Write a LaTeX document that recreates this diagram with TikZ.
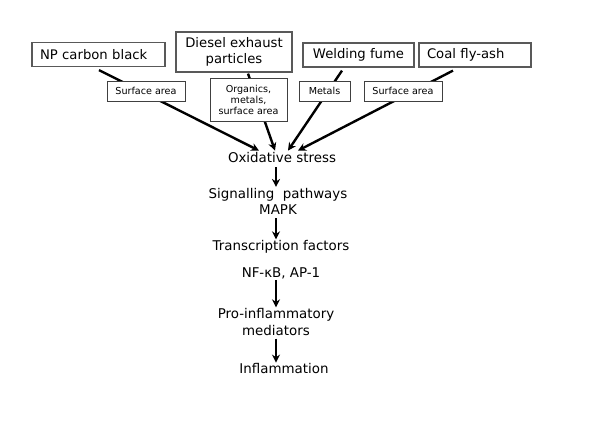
\documentclass[tikz,border=0pt]{standalone}
\usepackage{fontspec}
\setmainfont{DejaVu Sans}
\usetikzlibrary{arrows.meta,positioning,calc}

\begin{document}
\begin{tikzpicture}[x=1pt,y=-1pt,
    source/.style={draw=black!65,line width=1.2pt,inner ysep=0pt,inner xsep=8pt,
      font=\fontsize{13.2}{16}\selectfont,minimum height=24pt},
    tag/.style={draw=black!75,line width=0.8pt,fill=white,inner sep=0pt,
      font=\fontsize{9.6}{11}\selectfont,align=center,minimum height=20pt},
    stage/.style={inner sep=1pt,font=\fontsize{13.4}{16.5}\selectfont,align=center},
    link/.style={line width=2.4pt,-{Stealth[length=8pt,width=8pt]}}]
     \useasboundingbox (0,0) rectangle (600,422);
     \node[source,text width=117pt,align=left] (np) at (98.5,54.5) {NP carbon black};
     \node[source,inner xsep=0pt,minimum width=116pt,minimum height=40pt,align=center] (diesel) at (234,52)
       {Diesel exhaust\\particles};
     \node[source,inner xsep=0pt,minimum width=111pt] (weld) at (358.5,55) {Welding fume};
     \node[source,text width=96pt,align=left] (coal) at (475,55) {Coal fly-ash};

     \node[stage] (ox) at (282,158) {Oxidative stress};
     \node[stage] (sig) at (278,201.5) {Signalling~~pathways\\MAPK};
     \node[stage] (tf) at (281,247) {Transcription factors};
     \node[stage] (nf) at (281,273) {NF-κB, AP-1};
     \node[stage] (pro) at (276,322) {Pro-inflammatory\\mediators};
     \node[stage] (inf) at (284,369) {Inflammation};
     \coordinate (axis) at (276,0);

     \draw[link] ($(np.south)+(0.5,3)$) -- ($(ox.north)+(-23,-1)$);
     \draw[link] ($(diesel.south)+(14,1)$) -- ($(ox.north)+(-7,-1)$);
     \draw[link] ($(weld.south)+(-16.5,3)$) -- ($(ox.north)+(6,-1)$);
     \draw[link] ($(coal.south)+(-22,3)$) -- ($(ox.north)+(16,-1)$);

     \node[tag,minimum width=78pt] (sa1) at (146,91) {Surface area};
     \node[tag,minimum width=77pt,minimum height=43pt] (org) at (248.5,99.5)
       {Organics,\\metals,\\surface area};
     \node[tag,minimum width=51pt] (met) at (324.5,91) {Metals};
     \node[tag,minimum width=78pt] (sa2) at (403,91) {Surface area};

     \draw[link,shorten <=3pt] (ox.south -| axis) -- (sig.north -| axis);
     \draw[link,shorten <=2pt] (sig.south -| axis) -- (tf.north -| axis);
     \draw[link] (nf.south -| axis) -- (pro.north -| axis);
     \draw[link,shorten <=2pt] (pro.south -| axis) -- (inf.north -| axis);
   \end{tikzpicture}
\end{document}
